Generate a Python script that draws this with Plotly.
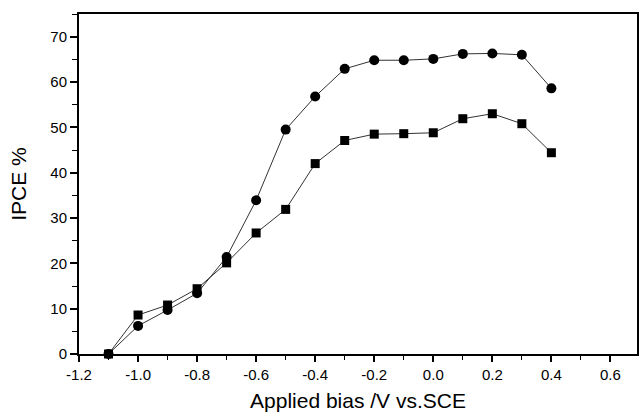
import plotly.graph_objects as go

bias = [-1.1, -1.0, -0.9, -0.8, -0.7, -0.6, -0.5, -0.4, -0.3, -0.2, -0.1, 0.0, 0.1, 0.2, 0.3, 0.4]
ipce_circle = [0.0, 6.2, 9.7, 13.4, 21.4, 33.9, 49.5, 56.8, 62.9, 64.8, 64.8, 65.1, 66.2, 66.3, 66.0, 58.6]
ipce_square = [0.0, 8.6, 10.8, 14.4, 20.1, 26.7, 31.9, 42.0, 47.1, 48.5, 48.6, 48.8, 51.9, 53.0, 50.8, 44.4]

x_ticks = [-1.2, -1.0, -0.8, -0.6, -0.4, -0.2, 0.0, 0.2, 0.4, 0.6]
x_tick_text = ["-1.2", "-1.0", "-0.8", "-0.6", "-0.4", "-0.2", "0.0", "0.2", "0.4", "0.6"]
y_ticks = [0, 10, 20, 30, 40, 50, 60, 70]

fig = go.Figure()
fig.add_trace(go.Scatter(
    x=bias, y=ipce_circle, mode="lines+markers",
    line=dict(color="#333333", width=1),
    marker=dict(symbol="circle", size=10, color="black"),
    showlegend=False, cliponaxis=False))
fig.add_trace(go.Scatter(
    x=bias, y=ipce_square, mode="lines+markers",
    line=dict(color="#333333", width=1),
    marker=dict(symbol="square", size=9, color="black"),
    showlegend=False, cliponaxis=False))

font_family = "Liberation Sans, Arial, sans-serif"
fig.update_layout(
    width=639, height=412,
    margin=dict(l=79, r=2, t=14, b=58, autoexpand=False),
    paper_bgcolor="white", plot_bgcolor="white",
    font=dict(family=font_family, color="black", size=15),
    xaxis=dict(
        range=[-1.2, 0.69], tickvals=x_ticks, ticktext=x_tick_text,
        ticks="outside", ticklen=6, tickwidth=1.5, tickcolor="black",
        minor=dict(dtick=0.1, ticks="outside", ticklen=4, tickwidth=1.2, tickcolor="black"),
        showline=True, linewidth=2, linecolor="black", mirror=True,
        showgrid=False, zeroline=False,
        title=dict(text="Applied bias /V vs.SCE", font=dict(size=21), standoff=12),
        tickfont=dict(size=15),
    ),
    yaxis=dict(
        range=[0, 75], tickvals=y_ticks,
        ticks="outside", ticklen=7, tickwidth=1.5, tickcolor="black",
        minor=dict(dtick=5, ticks="outside", ticklen=5, tickwidth=1.2, tickcolor="black"),
        showline=True, linewidth=2, linecolor="black", mirror=True,
        showgrid=False, zeroline=False,
        title=dict(text="IPCE %", font=dict(size=21), standoff=18),
        tickfont=dict(size=15),
    ),
)

fig.write_html("out.html")
